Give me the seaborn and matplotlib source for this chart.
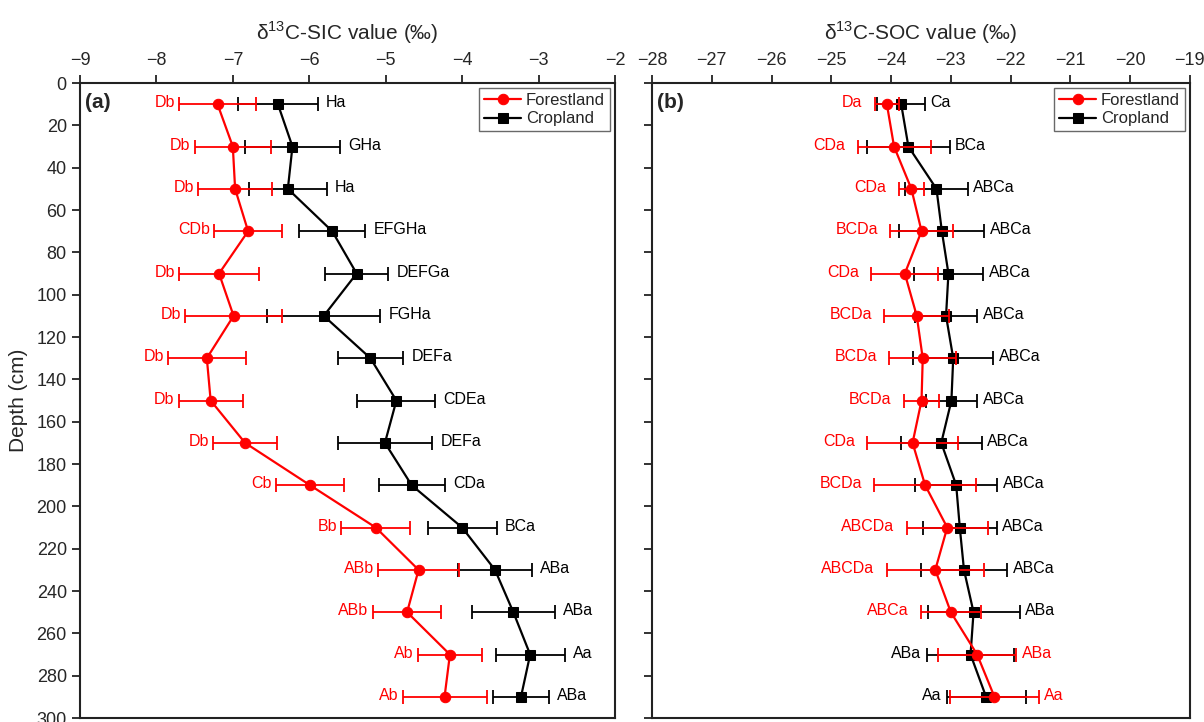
import pandas as pd
import matplotlib.pyplot as plt
import seaborn as sns

# Depth of each sampling layer (cm)
depth = [10, 30, 50, 70, 90, 110, 130, 150, 170, 190, 210, 230, 250, 270, 290]

# d13C-SIC values (per mil), mean and error
sic_forest = [-7.20, -7.00, -6.97, -6.80, -7.18, -6.99, -7.34, -7.29, -6.84, -5.99,
              -5.13, -4.57, -4.72, -4.16, -4.23]
sic_forest_err = [0.50, 0.50, 0.48, 0.44, 0.52, 0.63, 0.51, 0.42, 0.42, 0.45,
                  0.45, 0.53, 0.45, 0.42, 0.55]
sic_crop = [-6.41, -6.22, -6.28, -5.70, -5.38, -5.81, -5.20, -4.86, -5.01, -4.66,
            -4.00, -3.57, -3.33, -3.11, -3.23]
sic_crop_err = [0.52, 0.62, 0.51, 0.43, 0.41, 0.74, 0.43, 0.51, 0.62, 0.43,
                0.45, 0.48, 0.54, 0.45, 0.36]
sic_forest_lbl = ['Db', 'Db', 'Db', 'CDb', 'Db', 'Db', 'Db', 'Db', 'Db', 'Cb',
                  'Bb', 'ABb', 'ABb', 'Ab', 'Ab']
sic_crop_lbl = ['Ha', 'GHa', 'Ha', 'EFGHa', 'DEFGa', 'FGHa', 'DEFa', 'CDEa', 'DEFa', 'CDa',
                'BCa', 'ABa', 'ABa', 'Aa', 'ABa']

# d13C-SOC values (per mil), mean and error
soc_forest = [-24.07, -23.95, -23.66, -23.49, -23.77, -23.57, -23.47, -23.49, -23.64, -23.43,
              -23.06, -23.26, -23.00, -22.56, -22.27]
soc_forest_err = [0.20, 0.61, 0.21, 0.52, 0.56, 0.54, 0.56, 0.29, 0.76, 0.85,
                  0.68, 0.81, 0.50, 0.65, 0.74]
soc_crop = [-23.83, -23.71, -23.24, -23.15, -23.04, -23.08, -22.96, -22.99, -23.16, -22.91,
            -22.85, -22.78, -22.62, -22.67, -22.41]
soc_crop_err = [0.40, 0.69, 0.52, 0.71, 0.58, 0.52, 0.67, 0.43, 0.68, 0.69,
                0.62, 0.72, 0.77, 0.73, 0.66]
soc_forest_lbl = ['Da', 'CDa', 'CDa', 'BCDa', 'CDa', 'BCDa', 'BCDa', 'BCDa', 'CDa', 'BCDa',
                  'ABCDa', 'ABCDa', 'ABCa', 'ABa', 'Aa']
soc_crop_lbl = ['Ca', 'BCa', 'ABCa', 'ABCa', 'ABCa', 'ABCa', 'ABCa', 'ABCa', 'ABCa', 'ABCa',
                'ABCa', 'ABCa', 'ABa', 'ABa', 'Aa']
# last two SOC layers have their letters on the opposite side
soc_swap = [False] * 13 + [True, True]

sns.set_style('ticks')
plt.rcParams['font.family'] = ['Liberation Sans', 'DejaVu Sans']
plt.rcParams['mathtext.fontset'] = 'custom'
plt.rcParams['mathtext.rm'] = 'Liberation Sans'

RED = '#FF0000'
BLACK = '#000000'

fig = plt.figure(figsize=(12.04, 7.22), dpi=100)
ax1 = fig.add_axes([0.0664, 0.0055, 0.4444, 0.8795])
ax2 = fig.add_axes([0.5415, 0.0055, 0.4468, 0.8795])


def draw_panel(ax, f, fe, c, ce, flbl, clbl, swap, f_gap, c_gap):
    df_c = pd.DataFrame({'value': c, 'depth': depth})
    df_f = pd.DataFrame({'value': f, 'depth': depth})
    # cropland first so forestland sits on top
    ax.errorbar(c, depth, xerr=ce, fmt='none', ecolor=BLACK, elinewidth=1.3,
                capsize=5, capthick=1.3, zorder=2)
    sns.lineplot(data=df_c, x='value', y='depth', orient='y', ax=ax, color=BLACK,
                 marker='s', markersize=6.5, markeredgecolor=BLACK, linewidth=1.6,
                 estimator=None, label='Cropland', zorder=3)
    ax.errorbar(f, depth, xerr=fe, fmt='none', ecolor=RED, elinewidth=1.3,
                capsize=5, capthick=1.3, zorder=4)
    sns.lineplot(data=df_f, x='value', y='depth', orient='y', ax=ax, color=RED,
                 marker='o', markersize=7.5, markeredgecolor=RED, linewidth=1.6,
                 estimator=None, label='Forestland', zorder=5)

    for i, d in enumerate(depth):
        if not swap[i]:
            ax.annotate(flbl[i], (f[i] - fe[i], d), xytext=(-f_gap, 1),
                        textcoords='offset points', ha='right', va='center',
                        color=RED, fontsize=11.5)
            ax.annotate(clbl[i], (c[i] + ce[i], d), xytext=(c_gap, 1),
                        textcoords='offset points', ha='left', va='center',
                        color=BLACK, fontsize=11.5)
        else:
            ax.annotate(flbl[i], (f[i] + fe[i], d), xytext=(c_gap, 1),
                        textcoords='offset points', ha='left', va='center',
                        color=RED, fontsize=11.5)
            ax.annotate(clbl[i], (c[i] - ce[i], d), xytext=(-c_gap, 1),
                        textcoords='offset points', ha='right', va='center',
                        color=BLACK, fontsize=11.5)

    ax.set_ylim(300, 0)
    ax.set_yticks(range(0, 301, 20))
    ax.xaxis.tick_top()
    ax.xaxis.set_label_position('top')
    ax.tick_params(axis='both', direction='out', length=6, width=1.3,
                   labelsize=13, color='#222222')
    ax.tick_params(axis='x', pad=4)
    for s in ax.spines.values():
        s.set_visible(True)
        s.set_linewidth(1.5)
        s.set_color('#222222')

    h, l = ax.get_legend_handles_labels()
    order = [l.index('Forestland'), l.index('Cropland')]
    leg = ax.legend([h[k] for k in order], [l[k] for k in order], loc='upper right',
                    fontsize=12, frameon=True, fancybox=False, borderaxespad=0.3,
                    handlelength=2.2, borderpad=0.3, labelspacing=0.2, handletextpad=0.3)
    leg.get_frame().set_edgecolor('#444444')
    leg.get_frame().set_linewidth(1.0)


draw_panel(ax1, sic_forest, sic_forest_err, sic_crop, sic_crop_err,
           sic_forest_lbl, sic_crop_lbl, [False] * 15, 3, 6)
draw_panel(ax2, soc_forest, soc_forest_err, soc_crop, soc_crop_err,
           soc_forest_lbl, soc_crop_lbl, soc_swap, 9, 4)

ax1.set_xlim(-9, -2)
ax1.set_xticks(range(-9, -1))
ax1.set_xlabel('δ$^{13}$C-SIC value (‰)', fontsize=15, labelpad=9)
ax1.set_ylabel('Depth (cm)', fontsize=15, labelpad=6)
ax1.text(0.01, 0.985, '(a)', transform=ax1.transAxes, fontsize=15,
         fontweight='bold', va='top', ha='left')

ax2.set_xlim(-28, -19)
ax2.set_xticks(range(-28, -18))
ax2.set_yticklabels([])
ax2.set_ylabel('')
ax2.set_xlabel('δ$^{13}$C-SOC value (‰)', fontsize=15, labelpad=9)
ax2.text(0.01, 0.985, '(b)', transform=ax2.transAxes, fontsize=15,
         fontweight='bold', va='top', ha='left')

fig.savefig('out.png', dpi=100)
